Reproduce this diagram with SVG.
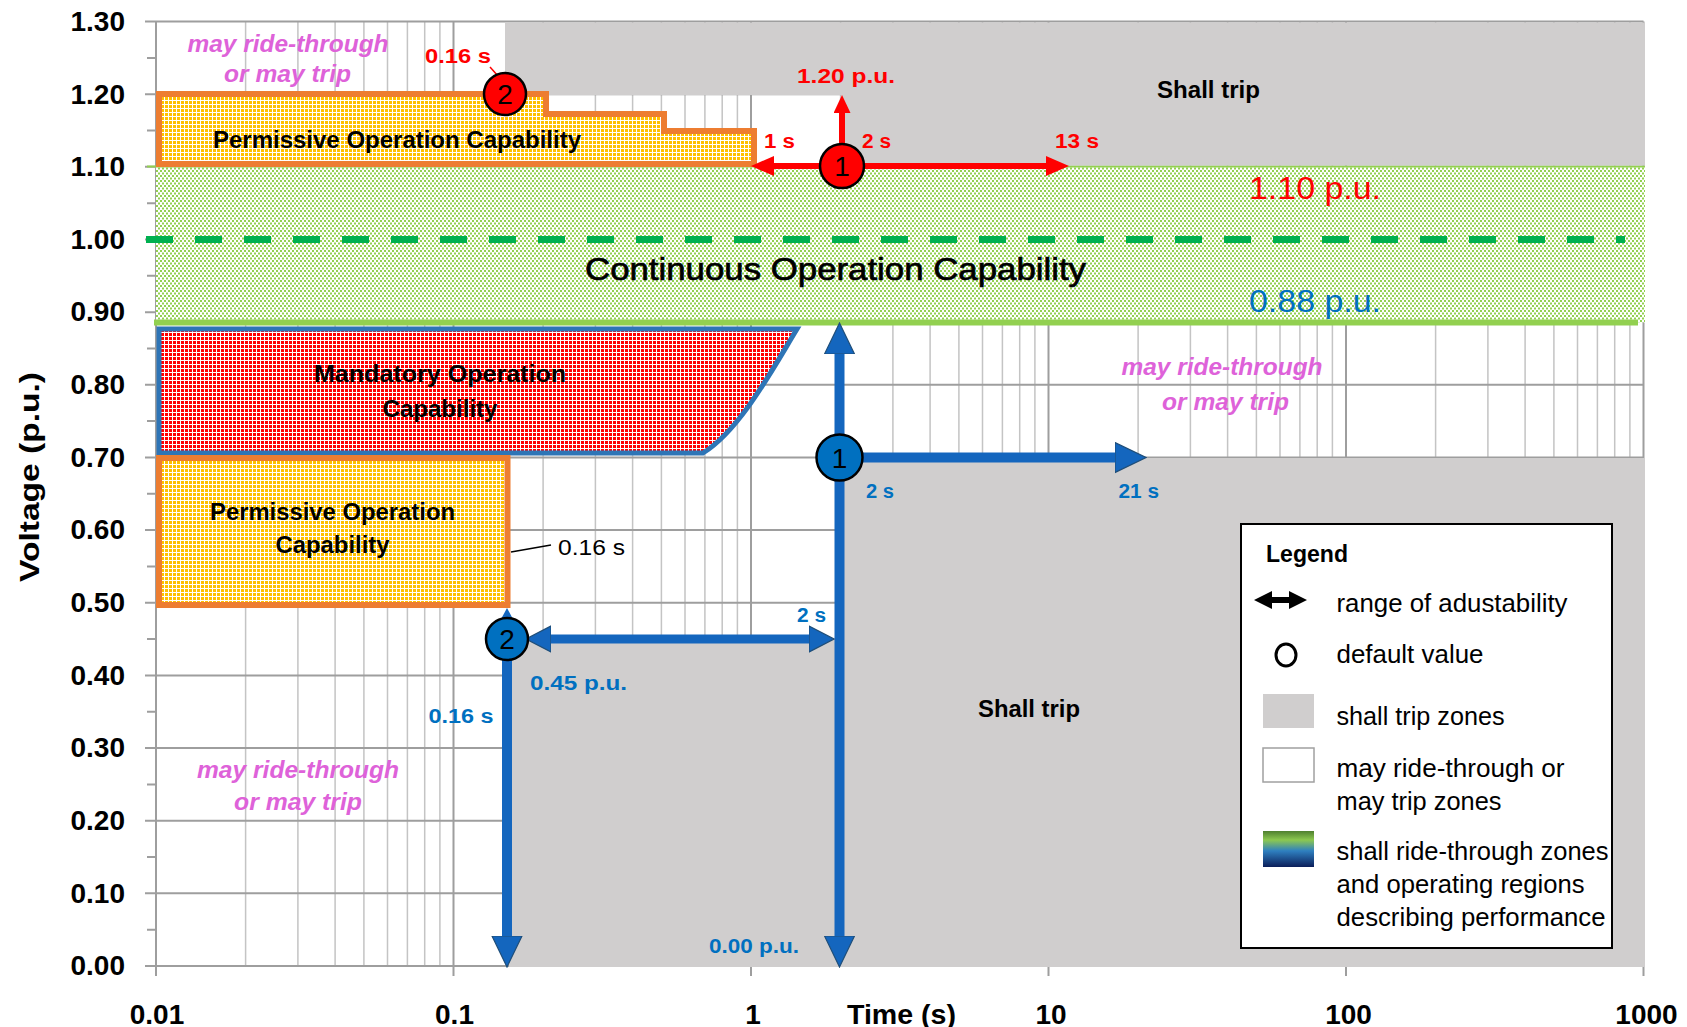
<svg xmlns="http://www.w3.org/2000/svg" width="1687" height="1027" viewBox="0 0 1687 1027">
<defs>
<style>
text{font-family:"Liberation Sans",Arial,sans-serif}
.ax{font-size:28px;font-weight:bold;fill:#000}
.reg{font-size:23px;font-weight:bold;fill:#000}
.red{font-size:20px;font-weight:bold;fill:#FF0000}
.blue{font-size:20px;font-weight:bold;fill:#0070C0}
.mag{font-size:24px;font-weight:bold;font-style:italic;fill:#DE62D9}
.leg{font-size:25px;fill:#000}
.num{font-size:28px;fill:#000;text-anchor:middle}
.gmin{stroke:#C4C4C4;stroke-width:1.5;fill:none}
.gmaj{stroke:#9E9E9E;stroke-width:2;fill:none}
.trip{fill:#D0CECE}
.bl{stroke:#1466BE;fill:none}
.rd{stroke:#FF0000;fill:none}
.circ{stroke:#000;stroke-width:2.5}
</style>
<pattern id="pGreen" width="4" height="5" patternUnits="userSpaceOnUse"><rect width="4" height="5" fill="#fff"/><rect width="2" height="2" fill="#92D050"/><rect x="2" y="2.5" width="2" height="2" fill="#92D050"/></pattern>
<pattern id="pYellow" width="4" height="4" patternUnits="userSpaceOnUse"><rect width="4" height="4" fill="#FFC000"/><rect width="1" height="4" fill="#fff"/><rect width="4" height="1" fill="#fff"/></pattern>
<pattern id="pRed" width="4" height="4" patternUnits="userSpaceOnUse"><rect width="4" height="4" fill="#FF0000"/><rect width="1" height="4" fill="#fff"/><rect width="4" height="1" fill="#fff"/></pattern>
<linearGradient id="gLeg" x1="0" y1="0" x2="0" y2="1"><stop offset="0" stop-color="#4F7F2F"/><stop offset="0.25" stop-color="#8CC850"/><stop offset="0.55" stop-color="#2F80C0"/><stop offset="1" stop-color="#0B1E5A"/></linearGradient>
<marker id="mBlueL" markerUnits="userSpaceOnUse" markerWidth="32" markerHeight="32" viewBox="0 0 32 32" refX="1" refY="16" orient="auto-start-reverse"><path d="M0,1 L31,16 L0,31 Z" fill="#1466BE" stroke="#1F4E79" stroke-width="1.2"/></marker>
<marker id="mBlueM" markerUnits="userSpaceOnUse" markerWidth="26" markerHeight="28" viewBox="0 0 26 28" refX="1" refY="14" orient="auto-start-reverse"><path d="M0,1 L25,14 L0,27 Z" fill="#1466BE" stroke="#1F4E79" stroke-width="1.2"/></marker>
<marker id="mBlueS" markerUnits="userSpaceOnUse" markerWidth="14" markerHeight="14" viewBox="0 0 14 14" refX="0.5" refY="7" orient="auto-start-reverse"><path d="M0,0 L13,7 L0,14 Z" fill="#1466BE"/></marker>
<marker id="mRed" markerUnits="userSpaceOnUse" markerWidth="24" markerHeight="20" viewBox="0 0 24 20" refX="1" refY="10" orient="auto-start-reverse"><path d="M0,0 L23,10 L0,20 Z" fill="#FF0000"/></marker>
<marker id="mRedS" markerUnits="userSpaceOnUse" markerWidth="18" markerHeight="17" viewBox="0 0 18 17" refX="1" refY="8.5" orient="auto-start-reverse"><path d="M0,0 L18,8.5 L0,17 Z" fill="#FF0000"/></marker>
</defs>
<rect width="1687" height="1027" fill="#fff"/>

<g id="grid">
<path class="gmin" d="M245.6,21.5V966M297.9,21.5V966M335.1,21.5V966M363.9,21.5V966M387.5,21.5V966M407.4,21.5V966M424.7,21.5V966M439.9,21.5V966M543.1,21.5V966M595.4,21.5V966M632.6,21.5V966M661.4,21.5V966M685,21.5V966M704.9,21.5V966M722.2,21.5V966M737.4,21.5V966M840.6,21.5V966M892.9,21.5V966M930.1,21.5V966M958.9,21.5V966M982.5,21.5V966M1002.4,21.5V966M1019.7,21.5V966M1034.9,21.5V966M1138.1,21.5V966M1190.4,21.5V966M1227.6,21.5V966M1256.4,21.5V966M1280,21.5V966M1299.9,21.5V966M1317.2,21.5V966M1332.4,21.5V966M1435.6,21.5V966M1487.9,21.5V966M1525.1,21.5V966M1553.9,21.5V966M1577.5,21.5V966M1597.4,21.5V966M1614.7,21.5V966M1629.9,21.5V966"/>
<path class="gmaj" d="M453.5,21.5V966M751,21.5V966M1048.5,21.5V966M1346,21.5V966M1643.5,21.5V966"/>
<path class="gmaj" d="M145,966H1643.5M145,893.35H1643.5M145,820.7H1643.5M145,748.05H1643.5M145,675.4H1643.5M145,602.75H1643.5M145,530.1H1643.5M145,457.45H1643.5M145,384.8H1643.5M145,312.15H1643.5M145,239.5H1643.5M145,166.85H1643.5M145,94.2H1643.5M145,21.55H1643.5"/>
<path class="gmaj" d="M156,21.5V976M147,929.7H156M147,857H156M147,784.4H156M147,711.7H156M147,639.1H156M147,566.4H156M147,493.8H156M147,421.1H156M147,348.5H156M147,275.8H156M147,203.2H156M147,130.5H156M147,57.9H156M453.5,966V976M751,966V976M1048.5,966V976M1346,966V976M1643.5,966V976"/>
</g>

<g id="continuous-operation">
<rect x="156" y="166.5" width="1489" height="156" fill="url(#pGreen)"/>
<line x1="147" y1="166.5" x2="1645" y2="166.5" stroke="#92D050" stroke-width="2"/>
<line x1="154" y1="322.5" x2="1638" y2="322.5" stroke="#92D050" stroke-width="6"/>
<line x1="146" y1="239.5" x2="1625" y2="239.5" stroke="#00B050" stroke-width="7" stroke-dasharray="27 22"/>
<text x="835.5" y="280" font-size="32" stroke="#000" stroke-width="0.7" textLength="501" lengthAdjust="spacingAndGlyphs" text-anchor="middle">Continuous Operation Capability</text>
<text x="1315" y="199" font-size="31" fill="#FF0000" textLength="132" lengthAdjust="spacingAndGlyphs" text-anchor="middle">1.10 p.u.</text>
<text x="1315" y="312" font-size="31" fill="#0070C0" textLength="132" lengthAdjust="spacingAndGlyphs" text-anchor="middle">0.88 p.u.</text>
</g>

<g id="shall-trip-high">
<path class="trip" d="M505,22.5H1645V165.5H842V95H505Z"/>
<text class="reg" x="1208.5" y="98" textLength="103" lengthAdjust="spacingAndGlyphs" text-anchor="middle">Shall trip</text>
</g>

<g id="permissive-high">
<path d="M159,94H546V114H664V131H754V164H159Z" fill="url(#pYellow)" stroke="#ED7D31" stroke-width="6"/>
<text class="reg" x="397" y="148" textLength="368" lengthAdjust="spacingAndGlyphs" text-anchor="middle">Permissive Operation Capability</text>
</g>

<g id="mandatory-operation">
<path d="M159,329H797C772,370 740,430 703,453H159Z" fill="url(#pRed)" stroke="#2E75B6" stroke-width="5"/>
<text class="reg" x="440" y="382" textLength="252" lengthAdjust="spacingAndGlyphs" text-anchor="middle">Mandatory Operation</text>
<text class="reg" x="440" y="417" textLength="115" lengthAdjust="spacingAndGlyphs" text-anchor="middle">Capability</text>
</g>

<g id="permissive-low">
<rect x="159" y="458" width="348.5" height="147" fill="url(#pYellow)" stroke="#ED7D31" stroke-width="6"/>
<text class="reg" x="332.5" y="520" textLength="245" lengthAdjust="spacingAndGlyphs" text-anchor="middle">Permissive Operation</text>
<text class="reg" x="332.5" y="553" textLength="114" lengthAdjust="spacingAndGlyphs" text-anchor="middle">Capability</text>
<line x1="511" y1="552" x2="551" y2="545" stroke="#000" stroke-width="1.5"/>
<text x="558" y="555" font-size="22" textLength="67" lengthAdjust="spacingAndGlyphs">0.16 s</text>
</g>

<g id="shall-trip-low">
<path class="trip" d="M509,639H840V458H1645V967H509Z"/>
<text class="reg" x="1029" y="717" textLength="102" lengthAdjust="spacingAndGlyphs" text-anchor="middle">Shall trip</text>
</g>

<g id="may-ride-through">
<text class="mag" x="288" y="52" textLength="201" lengthAdjust="spacingAndGlyphs" text-anchor="middle">may ride-through</text>
<text class="mag" x="287.5" y="82" textLength="127" lengthAdjust="spacingAndGlyphs" text-anchor="middle">or may trip</text>
<text class="mag" x="1222" y="375" textLength="201" lengthAdjust="spacingAndGlyphs" text-anchor="middle">may ride-through</text>
<text class="mag" x="1225.5" y="410" textLength="127" lengthAdjust="spacingAndGlyphs" text-anchor="middle">or may trip</text>
<text class="mag" x="298" y="778" textLength="202" lengthAdjust="spacingAndGlyphs" text-anchor="middle">may ride-through</text>
<text class="mag" x="298" y="810" textLength="128" lengthAdjust="spacingAndGlyphs" text-anchor="middle">or may trip</text>
</g>

<g id="connectors">
<line class="bl" x1="839.5" y1="353" x2="839.5" y2="937" stroke-width="10" marker-start="url(#mBlueL)" marker-end="url(#mBlueL)"/>
<line class="bl" x1="845" y1="457.5" x2="1116" y2="457.5" stroke-width="10" marker-end="url(#mBlueL)"/>
<line class="bl" x1="507" y1="639" x2="507" y2="937" stroke-width="10" marker-end="url(#mBlueL)"/>
<line class="bl" x1="507" y1="632" x2="507" y2="620.5" stroke-width="8" marker-end="url(#mBlueS)"/>
<line class="bl" x1="550" y1="639" x2="810" y2="639" stroke-width="9" marker-start="url(#mBlueM)" marker-end="url(#mBlueM)"/>
<line class="rd" x1="773" y1="166" x2="1047" y2="166" stroke-width="6" marker-start="url(#mRed)" marker-end="url(#mRed)"/>
<line class="rd" x1="842" y1="166" x2="842" y2="112" stroke-width="6" marker-end="url(#mRedS)"/>
<line x1="490" y1="67" x2="498" y2="76" stroke="#FF0000" stroke-width="1.5"/>
</g>

<g id="red-labels">
<text class="red" x="846" y="83" textLength="98" lengthAdjust="spacingAndGlyphs" text-anchor="middle">1.20 p.u.</text>
<text class="red" x="764" y="148" textLength="31" lengthAdjust="spacingAndGlyphs">1 s</text>
<text class="red" x="862" y="148" textLength="29" lengthAdjust="spacingAndGlyphs">2 s</text>
<text class="red" x="1055" y="148" textLength="44" lengthAdjust="spacingAndGlyphs">13 s</text>
<text class="red" x="425" y="63" textLength="66" lengthAdjust="spacingAndGlyphs">0.16 s</text>
</g>

<g id="blue-labels">
<text class="blue" x="866" y="498" textLength="28" lengthAdjust="spacingAndGlyphs">2 s</text>
<text class="blue" x="1118.5" y="498" textLength="40.5" lengthAdjust="spacingAndGlyphs">21 s</text>
<text class="blue" x="797" y="622" textLength="29" lengthAdjust="spacingAndGlyphs">2 s</text>
<text class="blue" x="530" y="690" textLength="97" lengthAdjust="spacingAndGlyphs">0.45 p.u.</text>
<text class="blue" x="428.5" y="723" textLength="65" lengthAdjust="spacingAndGlyphs">0.16 s</text>
<text class="blue" x="709" y="953" textLength="90" lengthAdjust="spacingAndGlyphs">0.00 p.u.</text>
</g>

<g id="point-red-1"><circle class="circ" cx="842" cy="166" r="22" fill="#FF0000"/><text class="num" x="842" y="176">1</text></g>
<g id="point-red-2"><circle class="circ" cx="505" cy="94" r="21" fill="#FF0000"/><text class="num" x="505" y="104">2</text></g>
<g id="point-blue-1"><circle class="circ" cx="839.5" cy="457.5" r="23" fill="#0070C0"/><text class="num" x="839.5" y="467.5">1</text></g>
<g id="point-blue-2"><circle class="circ" cx="507" cy="639" r="21" fill="#0070C0"/><text class="num" x="507" y="649">2</text></g>

<g id="axes">
<text class="ax" x="125" y="31" text-anchor="end">1.30</text>
<text class="ax" x="125" y="103.5" text-anchor="end">1.20</text>
<text class="ax" x="125" y="176" text-anchor="end">1.10</text>
<text class="ax" x="125" y="248.5" text-anchor="end">1.00</text>
<text class="ax" x="125" y="321" text-anchor="end">0.90</text>
<text class="ax" x="125" y="394" text-anchor="end">0.80</text>
<text class="ax" x="125" y="466.5" text-anchor="end">0.70</text>
<text class="ax" x="125" y="539" text-anchor="end">0.60</text>
<text class="ax" x="125" y="612" text-anchor="end">0.50</text>
<text class="ax" x="125" y="684.5" text-anchor="end">0.40</text>
<text class="ax" x="125" y="757" text-anchor="end">0.30</text>
<text class="ax" x="125" y="830" text-anchor="end">0.20</text>
<text class="ax" x="125" y="902.5" text-anchor="end">0.10</text>
<text class="ax" x="125" y="975" text-anchor="end">0.00</text>
<text class="ax" x="157" y="1024" text-anchor="middle">0.01</text>
<text class="ax" x="454.5" y="1024" text-anchor="middle">0.1</text>
<text class="ax" x="753" y="1024" text-anchor="middle">1</text>
<text class="ax" x="901.5" y="1024" text-anchor="middle" textLength="109" lengthAdjust="spacingAndGlyphs">Time (s)</text>
<text class="ax" x="1051" y="1024" text-anchor="middle">10</text>
<text class="ax" x="1348.5" y="1024" text-anchor="middle">100</text>
<text class="ax" x="1646.5" y="1024" text-anchor="middle">1000</text>
<text class="ax" transform="translate(39,477) rotate(-90)" font-size="30" text-anchor="middle" textLength="210" lengthAdjust="spacingAndGlyphs">Voltage (p.u.)</text>
</g>

<g id="legend">
<rect x="1241" y="524" width="371" height="424" fill="#fff" stroke="#000" stroke-width="2"/>
<text x="1266" y="562" font-size="24" font-weight="bold" textLength="82" lengthAdjust="spacingAndGlyphs">Legend</text>
<path d="M1254,600L1272,591V597H1289V591L1307,600L1289,609V603H1272V609Z" fill="#000"/>
<text class="leg" x="1336.5" y="612" textLength="231" lengthAdjust="spacingAndGlyphs">range of adustability</text>
<ellipse cx="1286" cy="655" rx="10" ry="11" fill="none" stroke="#000" stroke-width="3"/>
<text class="leg" x="1336.5" y="663" textLength="147" lengthAdjust="spacingAndGlyphs">default value</text>
<rect x="1263" y="694" width="51" height="34" fill="#D0CECE"/>
<text class="leg" x="1336.5" y="725" textLength="168" lengthAdjust="spacingAndGlyphs">shall trip zones</text>
<rect x="1263" y="748" width="51" height="34" fill="#fff" stroke="#A0A0A0" stroke-width="1.5"/>
<text class="leg" x="1336.5" y="777" textLength="228" lengthAdjust="spacingAndGlyphs">may ride-through or</text>
<text class="leg" x="1336.5" y="810" textLength="165" lengthAdjust="spacingAndGlyphs">may trip zones</text>
<rect x="1263" y="831" width="51" height="36" fill="url(#gLeg)"/>
<text class="leg" x="1336.5" y="860" textLength="272" lengthAdjust="spacingAndGlyphs">shall ride-through zones</text>
<text class="leg" x="1336.5" y="893" textLength="248" lengthAdjust="spacingAndGlyphs">and operating regions</text>
<text class="leg" x="1336.5" y="926" textLength="269" lengthAdjust="spacingAndGlyphs">describing performance</text>
</g>
</svg>
